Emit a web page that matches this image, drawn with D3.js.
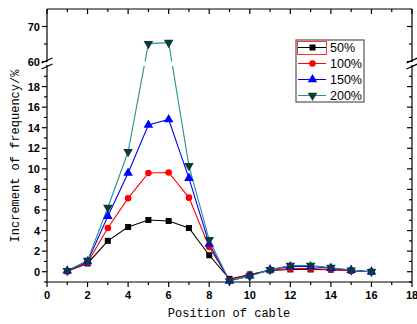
<!DOCTYPE html>
<html><head><meta charset="utf-8">
<script src="https://cdn.jsdelivr.net/npm/d3@7"></script>
<style>body{margin:0;background:#fff}</style>
</head><body>
<script>
const positions = [1,2,3,4,5,6,7,8,9,10,11,12,13,14,15,16];
const seriesNames = ["50%","100%","150%","200%"];
const s50  = [0.05,0.8,3.0,4.35,5.03,4.93,4.25,1.6,-0.7,-0.27,0.13,0.22,0.22,0.2,0.1,0.0];
const s100 = [0.05,0.9,4.25,7.15,9.6,9.65,7.2,2.4,-0.8,-0.3,0.15,0.3,0.3,0.2,0.1,0.0];
const s150 = [0.1,1.0,5.4,9.6,14.26,14.8,9.1,2.7,-0.9,-0.4,0.2,0.5,0.5,0.35,0.15,0.0];
const s200 = [0.1,1.1,6.25,11.66,65.1,65.4,10.3,3.1,-0.9,-0.45,0.2,0.6,0.6,0.4,0.15,0.0];
const xTicks = [0,2,4,6,8,10,12,14,16,18];
const yTicksLow = [0,2,4,6,8,10,12,14,16,18];
const yTicksHigh = [60,70];

const W=417,H=324;
const L=47,R=412,T=9,B=282;
const svg=d3.select("body").append("svg").attr("width",W).attr("height",H);

const x=d3.scaleLinear().domain([0,18]).range([L,R]);
const yLow=d3.scaleLinear().domain([-1,20]).range([B,66]);
const yHigh=d3.scaleLinear().domain([60,75]).range([61.5,T]);
const y=v=> v>=40 ? yHigh(v) : yLow(v);

const colors=["#000000","#ff0000","#0000ff","#2a8f8f"];
const mcolors=["#000000","#ff0000","#0000ff","#0d3b38"];
const data=[s50,s100,s150,s200];

// clip: two segments
const defs=svg.append("defs");
const cp=defs.append("clipPath").attr("id","segs");
cp.append("rect").attr("x",L-10).attr("y",0).attr("width",R-L+20).attr("height",61.5);
cp.append("rect").attr("x",L-10).attr("y",66).attr("width",R-L+20).attr("height",H-66);

const tf="'Liberation Sans',Arial,sans-serif";
const ax=svg.append("g").attr("stroke","#000").attr("stroke-width",1.2).attr("fill","none");
// frame lines
ax.append("line").attr("x1",L).attr("x2",R).attr("y1",B).attr("y2",B);
ax.append("line").attr("x1",L).attr("x2",R).attr("y1",T).attr("y2",T);
[L,R].forEach(xx=>{
  ax.append("line").attr("x1",xx).attr("x2",xx).attr("y1",T).attr("y2",62);
  ax.append("line").attr("x1",xx).attr("x2",xx).attr("y1",65).attr("y2",B);
  // break slashes
  [60.5,66.5].forEach(yy=>{
    ax.append("line").attr("x1",xx-5.5).attr("x2",xx+5.5).attr("y1",yy+2.5).attr("y2",yy-2.5);
  });
});
// x ticks
d3.range(0,19).forEach(v=>{
  const major=v%2===0, len=major?5:3;
  ax.append("line").attr("x1",x(v)).attr("x2",x(v)).attr("y1",B).attr("y2",B+len);
  ax.append("line").attr("x1",x(v)).attr("x2",x(v)).attr("y1",T).attr("y2",T+len);
});
// y ticks low
d3.range(-1,21).forEach(v=>{
  if(v===20) return;
  const major=v%2===0, len=major?5:3;
  ax.append("line").attr("x1",L-len).attr("x2",L).attr("y1",yLow(v)).attr("y2",yLow(v));
  ax.append("line").attr("x1",R-len).attr("x2",R).attr("y1",yLow(v)).attr("y2",yLow(v));
});
[60,65,70].forEach(v=>{
  const major=v%10===0, len=major?5:3;
  ax.append("line").attr("x1",L-len).attr("x2",L).attr("y1",yHigh(v)).attr("y2",yHigh(v));
  ax.append("line").attr("x1",R-len).attr("x2",R).attr("y1",yHigh(v)).attr("y2",yHigh(v));
});
// labels
const lab=svg.append("g").attr("font-family",tf).attr("font-weight","bold").attr("font-size",11).attr("fill","#000");
xTicks.forEach(v=>lab.append("text").attr("x",x(v)).attr("y",299).attr("text-anchor","middle").text(v));
yTicksLow.forEach(v=>lab.append("text").attr("x",40).attr("y",yLow(v)+4).attr("text-anchor","end").text(v));
yTicksHigh.forEach(v=>lab.append("text").attr("x",40).attr("y",yHigh(v)+4).attr("text-anchor","end").text(v));

// axis titles
const mono="'Liberation Mono','DejaVu Sans Mono',monospace";
svg.append("text").attr("x",229).attr("y",317).attr("text-anchor","middle")
  .attr("font-family",mono).attr("font-size",12).text("Position of cable");
svg.append("text").attr("transform","translate(19,156) rotate(-90)").attr("text-anchor","middle")
  .attr("font-family",mono).attr("font-size",12).text("Increment of frequency/%");

// series
const line=d3.line().x((d,i)=>x(positions[i])).y(d=>y(d));
const sym=[d3.symbolSquare,d3.symbolCircle,d3.symbolTriangle,d3.symbolTriangle];
const symSize=[36,34,40,40];
const plot=svg.append("g").attr("clip-path","url(#segs)");
data.forEach((s,k)=>{
  plot.append("path").attr("d",line(s)).attr("fill","none").attr("stroke",colors[k]).attr("stroke-width",1.1);
});
data.forEach((s,k)=>{
  s.forEach((v,i)=>{
    const rot=k===3?" rotate(180)":"";
    svg.append("path").attr("d",d3.symbol(sym[k],symSize[k])())
      .attr("transform",`translate(${x(positions[i])},${y(v)})${rot}`)
      .attr("fill",mcolors[k]);
  });
});

// legend
const lg=svg.append("g");
lg.append("rect").attr("x",296).attr("y",40).attr("width",68).attr("height",62)
  .attr("fill","#fff").attr("stroke","#555").attr("stroke-width",1.2);
seriesNames.forEach((n,k)=>{
  const yy=47.5+k*16;
  lg.append("line").attr("x1",298).attr("x2",326).attr("y1",yy).attr("y2",yy).attr("stroke",colors[k]).attr("stroke-width",1);
  lg.append("path").attr("d",d3.symbol(sym[k],symSize[k])())
    .attr("transform",`translate(312.5,${yy})${k===3?" rotate(180)":""}`).attr("fill",mcolors[k]);
  lg.append("text").attr("x",330).attr("y",yy+4.5).attr("font-family",tf).attr("font-size",12.5).text(n);
});
lg.append("rect").attr("x",297.5).attr("y",41.5).attr("width",29).attr("height",13)
  .attr("fill","none").attr("stroke","#ff3030").attr("stroke-width",1);
</script>
</body></html>
